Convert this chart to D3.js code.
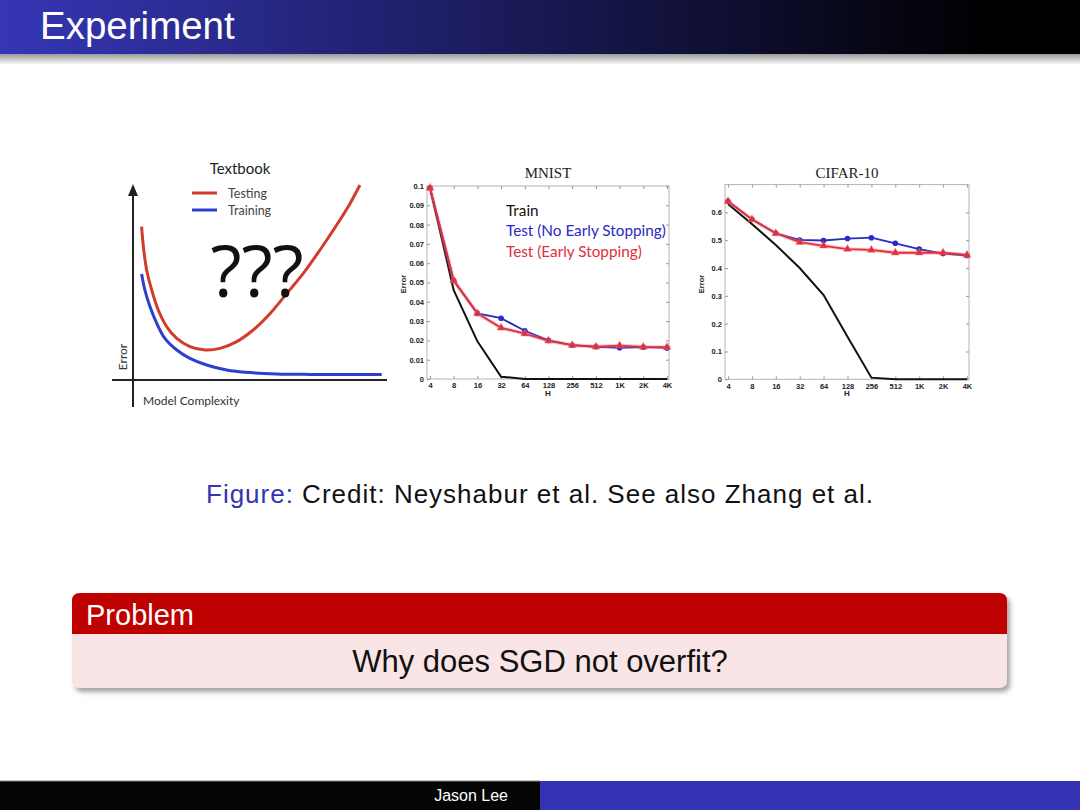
<!DOCTYPE html>
<html>
<head>
<meta charset="utf-8">
<script src="https://cdn.jsdelivr.net/npm/d3@7"></script>
<style>
  body { margin: 0; background: #fff; }
  svg { display: block; }
</style>
</head>
<body>
<script>
// --- data ---
var hTicks = ["4", "8", "16", "32", "64", "128", "256", "512", "1K", "2K", "4K"];

var mnistYTicks = [0, 0.01, 0.02, 0.03, 0.04, 0.05, 0.06, 0.07, 0.08, 0.09, 0.1];
var mnistTrain  = [0.099, 0.046, 0.0195, 0.0012, 0, 0, 0, 0, 0, 0, 0];
var mnistTestNo = [0.099, 0.051, 0.034, 0.0315, 0.025, 0.020, 0.0175, 0.0167, 0.0162, 0.0165, 0.0161];
var mnistTestES = [0.099, 0.051, 0.034, 0.0265, 0.0235, 0.0198, 0.0175, 0.0167, 0.0173, 0.0166, 0.0165];

var cifarYTicks = [0, 0.1, 0.2, 0.3, 0.4, 0.5, 0.6];
var cifarTrain  = [0.63, 0.558, 0.483, 0.40, 0.303, 0.153, 0.006, 0, 0, 0, 0];
var cifarTestNo = [0.64, 0.575, 0.525, 0.501, 0.499, 0.506, 0.509, 0.489, 0.468, 0.452, 0.445];
var cifarTestES = [0.64, 0.575, 0.525, 0.493, 0.480, 0.468, 0.465, 0.455, 0.455, 0.455, 0.447];

// textbook sketch (complexity 0..10, error 0..10)
var testingX  = [0.34, 0.41, 0.54, 0.74, 1.0, 1.33, 1.73, 2.25, 2.85, 3.44, 4.1, 4.75, 5.42, 6.08, 6.73, 7.39, 8.05, 8.58, 8.97];
var testingY  = [7.67, 6.67, 5.5, 4.5, 3.5, 2.67, 2.08, 1.67, 1.5, 1.58, 1.92, 2.5, 3.33, 4.33, 5.33, 6.5, 7.75, 8.83, 9.75];
var trainingX = [0.34, 0.47, 0.67, 0.94, 1.26, 1.73, 2.25, 2.91, 3.7, 4.62, 5.68, 7.0, 8.31, 9.83];
var trainingY = [5.3, 4.5, 3.67, 2.83, 2.08, 1.5, 1.08, 0.75, 0.5, 0.37, 0.3, 0.28, 0.28, 0.28];

var BLUE = "#2a2ac4", RED = "#e0303c";
var SANS = "'Liberation Sans', Arial, sans-serif";

var svg = d3.select("body").append("svg")
  .attr("width", 1080)
  .attr("height", 810);

var defs = svg.append("defs");
var hg = defs.append("linearGradient").attr("id", "hdr").attr("x1", 0).attr("x2", 1).attr("y1", 0).attr("y2", 0);
hg.append("stop").attr("offset", "0%").attr("stop-color", "#3636b6");
hg.append("stop").attr("offset", "92%").attr("stop-color", "#000");
var sg = defs.append("linearGradient").attr("id", "hdrShadow").attr("x1", 0).attr("x2", 0).attr("y1", 0).attr("y2", 1);
sg.append("stop").attr("offset", "0%").attr("stop-color", "#9a9a9a");
sg.append("stop").attr("offset", "100%").attr("stop-color", "#fff");
defs.append("filter").attr("id", "blockShadow").attr("x", "-5%").attr("y", "-20%").attr("width", "110%").attr("height", "150%")
  .append("feDropShadow").attr("dx", 3).attr("dy", 4).attr("stdDeviation", 2.5)
  .attr("flood-color", "#555").attr("flood-opacity", 0.55);

// Header bar
svg.append("rect").attr("x", 0).attr("y", 0).attr("width", 1080).attr("height", 54).attr("fill", "url(#hdr)");
svg.append("rect").attr("x", 0).attr("y", 54).attr("width", 1080).attr("height", 11).attr("fill", "url(#hdrShadow)");
svg.append("text").attr("x", 40).attr("y", 39)
  .style("font-family", SANS).style("font-size", "38.5px").attr("fill", "#fff")
  .text("Experiment");

// ---------- Textbook sketch ----------
var tx = d3.scaleLinear().domain([0, 10]).range([133, 386]);
var ty = d3.scaleLinear().domain([0, 10]).range([380, 180]);
var tb = svg.append("g");

tb.append("line").attr("x1", 112).attr("x2", 387).attr("y1", ty(0)).attr("y2", ty(0))
  .attr("stroke", "#222").attr("stroke-width", 2);
tb.append("line").attr("x1", tx(0)).attr("x2", tx(0)).attr("y1", 407).attr("y2", 192)
  .attr("stroke", "#222").attr("stroke-width", 2);
tb.append("path").attr("d", "M" + (tx(0) - 5) + ",196 L" + tx(0) + ",184 L" + (tx(0) + 5) + ",196 Z").attr("fill", "#222");

var tline = d3.line().curve(d3.curveCatmullRom).x(function (d) { return tx(d[0]); }).y(function (d) { return ty(d[1]); });
tb.append("path").attr("d", tline(d3.zip(trainingX, trainingY)))
  .attr("fill", "none").attr("stroke", "#2e3ed0").attr("stroke-width", 3);
tb.append("path").attr("d", tline(d3.zip(testingX, testingY)))
  .attr("fill", "none").attr("stroke", "#d23c2a").attr("stroke-width", 3);

tb.append("text").attr("x", 240).attr("y", 174).attr("text-anchor", "middle")
  .style("font-family", "Lato, sans-serif").style("font-size", "15px").attr("fill", "#222").text("Textbook");
tb.append("line").attr("x1", 192).attr("x2", 217).attr("y1", 193).attr("y2", 193).attr("stroke", "#d23c2a").attr("stroke-width", 3);
tb.append("line").attr("x1", 192).attr("x2", 217).attr("y1", 210).attr("y2", 210).attr("stroke", "#2e3ed0").attr("stroke-width", 3);
tb.append("text").attr("x", 228).attr("y", 198).style("font-family", "Lato, sans-serif").style("font-size", "12.5px").attr("fill", "#444").text("Testing");
tb.append("text").attr("x", 228).attr("y", 215).style("font-family", "Lato, sans-serif").style("font-size", "12.5px").attr("fill", "#444").text("Training");
tb.append("text").attr("x", 257).attr("y", 297).attr("text-anchor", "middle")
  .style("font-family", "'Open Sans', sans-serif").style("font-size", "72px").attr("fill", "#111").text("???");
tb.append("text").attr("transform", "translate(127,357) rotate(-90)").attr("text-anchor", "middle")
  .style("font-family", "Lato, sans-serif").style("font-size", "12px").attr("fill", "#333").text("Error");
tb.append("text").attr("x", 143).attr("y", 405)
  .style("font-family", "Lato, sans-serif").style("font-size", "12px").attr("fill", "#333").text("Model Complexity");

// ---------- MNIST / CIFAR panels ----------
function drawPanel(p) {
  var g = svg.append("g");
  var x = d3.scalePoint().domain(hTicks).range([p.left + 3, p.right - 2]);
  var y = d3.scaleLinear().domain([0, p.ymax]).range([p.bottom, p.top]);

  g.append("rect").attr("x", p.left).attr("y", p.top)
    .attr("width", p.right - p.left).attr("height", p.bottom - p.top)
    .attr("fill", "none").attr("stroke", "#b4b4b4").attr("stroke-width", 1);

  var axes = [
    g.append("g").attr("transform", "translate(" + p.left + ",0)")
      .call(d3.axisLeft(y).tickValues(p.yTicks).tickFormat(d3.format("~g")).tickSizeInner(-3).tickSizeOuter(0).tickPadding(3)),
    g.append("g").attr("transform", "translate(0," + p.bottom + ")")
      .call(d3.axisBottom(x).tickSizeInner(-3).tickSizeOuter(0).tickPadding(4)),
    g.append("g").attr("transform", "translate(" + p.right + ",0)")
      .call(d3.axisRight(y).tickValues(p.yTicks).tickFormat("").tickSizeInner(-3).tickSizeOuter(0)),
    g.append("g").attr("transform", "translate(0," + p.top + ")")
      .call(d3.axisTop(x).tickFormat("").tickSizeInner(-3).tickSizeOuter(0))
  ];
  axes.forEach(function (a) {
    a.select(".domain").remove();
    a.selectAll(".tick line").attr("stroke", "#999");
    a.selectAll(".tick text").attr("fill", "#222")
      .style("font-family", SANS).style("font-weight", "bold").style("font-size", "7.5px");
  });

  var line = d3.line().x(function (d, i) { return x(hTicks[i]); }).y(function (d) { return y(d); });

  g.append("path").attr("d", line(p.train)).attr("fill", "none").attr("stroke", "#111").attr("stroke-width", 2);

  g.append("path").attr("d", line(p.testNo)).attr("fill", "none").attr("stroke", BLUE).attr("stroke-width", 1.8);
  g.selectAll("circle.no").data(p.testNo).enter().append("circle").classed("no", true)
    .attr("cx", function (d, i) { return x(hTicks[i]); }).attr("cy", function (d) { return y(d); })
    .attr("r", 2.8).attr("fill", BLUE);

  g.append("path").attr("d", line(p.testES)).attr("fill", "none").attr("stroke", "rgba(240,110,120,0.35)").attr("stroke-width", 4);
  g.append("path").attr("d", line(p.testES)).attr("fill", "none").attr("stroke", RED).attr("stroke-width", 1.8);
  var tri = d3.symbol().type(d3.symbolTriangle).size(26);
  g.selectAll("path.es").data(p.testES).enter().append("path").classed("es", true)
    .attr("transform", function (d, i) { return "translate(" + x(hTicks[i]) + "," + y(d) + ")"; })
    .attr("d", tri).attr("fill", RED).attr("stroke", "rgba(240,110,120,0.5)").attr("stroke-width", 1);

  g.append("text").attr("x", (p.left + p.right) / 2).attr("y", 178).attr("text-anchor", "middle")
    .style("font-family", "'Liberation Serif', 'Times New Roman', serif").style("font-size", "15px").attr("fill", "#222")
    .text(p.title);
  g.append("text").attr("x", (p.left + p.right) / 2).attr("y", 396).attr("text-anchor", "middle")
    .style("font-family", SANS).style("font-weight", "bold").style("font-size", "8px").attr("fill", "#222").text("H");
  g.append("text").attr("transform", "translate(" + (p.left - 21) + ",284) rotate(-90)").attr("text-anchor", "middle")
    .style("font-family", SANS).style("font-weight", "bold").style("font-size", "7.5px").attr("fill", "#222").text("Error");
  return g;
}

var mnist = drawPanel({ title: "MNIST", left: 427, right: 669, top: 186, bottom: 379, ymax: 0.1,
  yTicks: mnistYTicks, train: mnistTrain, testNo: mnistTestNo, testES: mnistTestES });
drawPanel({ title: "CIFAR-10", left: 725, right: 969, top: 184.6, bottom: 379.3, ymax: 0.7,
  yTicks: cifarYTicks, train: cifarTrain, testNo: cifarTestNo, testES: cifarTestES });

// MNIST legend
var legend = [["Train", "#111"], ["Test (No Early Stopping)", BLUE], ["Test (Early Stopping)", RED]];
mnist.selectAll("text.leg").data(legend).enter().append("text").classed("leg", true)
  .attr("x", 506).attr("y", function (d, i) { return 215.5 + i * 20.5; })
  .style("font-family", "Lato, sans-serif").style("font-size", "15.3px")
  .attr("fill", function (d) { return d[1]; }).text(function (d) { return d[0]; });

// Caption
var cap = svg.append("text").attr("x", 206).attr("y", 503)
  .attr("textLength", 667).attr("lengthAdjust", "spacing")
  .style("font-family", SANS).style("font-size", "26px");
cap.append("tspan").attr("fill", "#3333b3").text("Figure:");
cap.append("tspan").attr("fill", "#111").text(" Credit:  Neyshabur et al.  See also Zhang et al.");

// Problem block
var blk = svg.append("g").attr("filter", "url(#blockShadow)");
blk.append("path").attr("d", "M72,634 V601 Q72,593 80,593 H999 Q1007,593 1007,601 V634 Z").attr("fill", "#bf0000");
blk.append("path").attr("d", "M72,634 H1007 V680 Q1007,688 999,688 H80 Q72,688 72,680 Z").attr("fill", "#f9e5e5");
svg.append("text").attr("x", 86).attr("y", 625)
  .style("font-family", SANS).style("font-size", "29px").attr("fill", "#fff").text("Problem");
svg.append("text").attr("x", 540).attr("y", 672).attr("text-anchor", "middle")
  .style("font-family", SANS).style("font-size", "31px").attr("fill", "#111").text("Why does SGD not overfit?");

// Footer
svg.append("rect").attr("x", 0).attr("y", 781).attr("width", 540).attr("height", 29).attr("fill", "#050505");
svg.append("rect").attr("x", 540).attr("y", 781).attr("width", 540).attr("height", 29).attr("fill", "#3333b3");
svg.append("line").attr("x1", 0).attr("x2", 540).attr("y1", 781).attr("y2", 781).attr("stroke", "#888");
svg.append("text").attr("x", 508).attr("y", 801).attr("text-anchor", "end")
  .style("font-family", SANS).style("font-size", "16px").attr("fill", "#fff").text("Jason Lee");
</script>
</body>
</html>
